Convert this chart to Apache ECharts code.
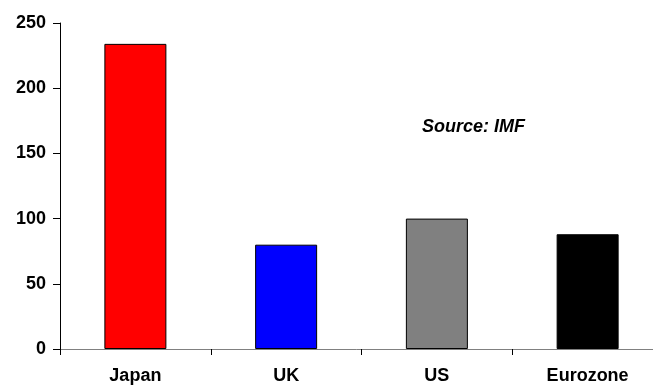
<!DOCTYPE html>
<html>
<head>
<meta charset="utf-8">
<script src="https://cdn.jsdelivr.net/npm/echarts@6/dist/echarts.min.js"></script>
<style>
html,body{margin:0;padding:0;background:#fff;}
#c{width:653px;height:385px;}
</style>
</head>
<body>
<div id="c"></div>
<script>
const categories = ['Japan', 'UK', 'US', 'Eurozone'];
const values = [234, 80, 100, 88];
const barColors = ['#ff0000', '#0000ff', '#808080', '#000000'];
const yTicks = { min: 0, max: 250, interval: 50 };
const sourceNote = 'Source: IMF';

const chart = echarts.init(document.getElementById('c'), null, { renderer: 'canvas' });
const font = 'Liberation Sans, Arial, sans-serif';
chart.setOption({
  animation: false,
  backgroundColor: '#ffffff',
  grid: { left: 60, top: 23, right: -10, bottom: 36, containLabel: false, outerBoundsMode: 'none' },
  graphic: [{
    type: 'text', left: 422, top: 118,
    style: { text: sourceNote, font: 'italic bold 18px ' + font, fill: '#000' }
  }],
  xAxis: {
    type: 'category',
    data: categories,
    boundaryGap: true,
    axisLine: { show: true, lineStyle: { color: '#808080', width: 1 } },
    axisTick: { show: true, length: 6, alignWithLabel: false, lineStyle: { color: '#000', width: 1 } },
    axisLabel: { margin: 18, color: '#000', fontSize: 18, fontWeight: 'bold', fontFamily: font },
    splitLine: { show: false }
  },
  yAxis: {
    type: 'value',
    min: yTicks.min, max: yTicks.max, interval: yTicks.interval,
    axisLine: { show: true, lineStyle: { color: '#000', width: 1 } },
    axisTick: { show: true, length: 7, lineStyle: { color: '#000', width: 1 } },
    axisLabel: { margin: 14, color: '#000', fontSize: 18, fontWeight: 'bold', fontFamily: font },
    splitLine: { show: false }
  },
  series: [{
    type: 'bar',
    barWidth: 62,
    data: values.map((v, i) => ({
      value: v,
      itemStyle: { color: barColors[i], borderColor: '#000', borderWidth: 1 }
    }))
  }]
});
</script>
</body>
</html>
